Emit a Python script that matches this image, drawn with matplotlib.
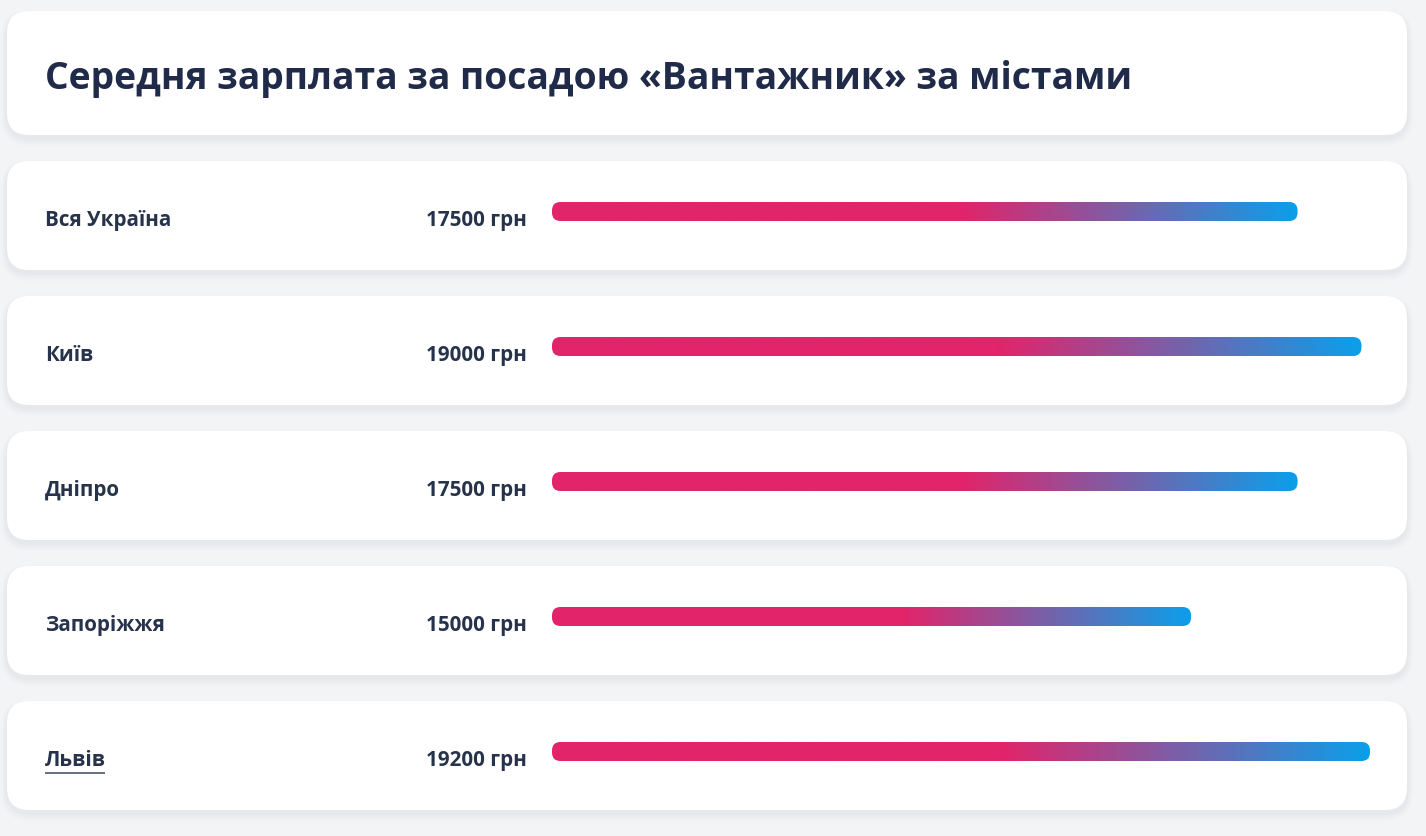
import numpy as np
import matplotlib
matplotlib.use("Agg")
from matplotlib import pyplot as plt
from matplotlib.patches import FancyBboxPatch
from matplotlib.colors import LinearSegmentedColormap
from matplotlib.transforms import blended_transform_factory

cities = ["Вся Україна", "Київ", "Дніпро", "Запоріжжя", "Львів"]
salaries = [17500, 19000, 17500, 15000, 19200]
unit = "грн"
title = "Середня зарплата за посадою «Вантажник» за містами"

W, H = 1426, 837
BG = "#f3f4f6"
TITLE_C = "#1f2b48"
TEXT_C = "#26334b"
PINK = "#e2246a"
BLUE = "#0b9fea"

plt.rcParams["font.family"] = ["Open Sans", "DejaVu Sans"]

fig = plt.figure(figsize=(W / 100, H / 100), dpi=100)
fig.patch.set_facecolor(BG)

bg = fig.add_axes([0, 0, 1, 1])
bg.set_xlim(0, W)
bg.set_ylim(H, 0)
bg.axis("off")


def card(y0, y1, x0=7, x1=1407, r=22):
    # soft shadow
    for k, a in [(12, 0.008), (9, 0.010), (6, 0.012), (3, 0.014)]:
        bg.add_patch(FancyBboxPatch((x0 - k / 2, y0 + 3 - k / 3), x1 - x0 + k, y1 - y0 + k,
                                    boxstyle=f"round,pad=0,rounding_size={r + k / 2}",
                                    fc="#1f2b48", ec="none", alpha=a, zorder=1))
    bg.add_patch(FancyBboxPatch((x0, y0), x1 - x0, y1 - y0,
                                boxstyle=f"round,pad=0,rounding_size={r}",
                                fc="white", ec="none", zorder=2))


card(12, 136)
bg.text(45, 79, title, fontsize=26.8, fontweight="bold", color=TITLE_C,
        va="center", ha="left", zorder=3)

for i in range(len(cities)):
    top = 162 + 135 * i
    card(top, top + 109)

# bar axes: track from x=552 to x=1370, one row every 135 px
n = len(cities)
left_px, right_px = 552, 1370
top_px = 212.5 - 67.5
bot_px = 212.5 + 135 * (n - 1) + 67.5
bars = fig.add_axes([left_px / W, 1 - bot_px / H, (right_px - left_px) / W, (bot_px - top_px) / H])
bars.set_xlim(0, max(salaries))
bars.set_ylim(n - 0.5, -0.5)
bars.axis("off")
bars.patch.set_alpha(0)

cmap = LinearSegmentedColormap.from_list("g", [(0, PINK), (0.55, PINK), (1, BLUE)])
grad = np.linspace(0, 1, 512).reshape(1, -1)

x_per_px = max(salaries) / (right_px - left_px)
y_per_px = 1 / 135
bar_h = 19 * y_per_px
r_px = 8.5

for i, v in enumerate(salaries):
    patch = FancyBboxPatch((0, i - bar_h / 2), v, bar_h,
                           boxstyle=f"round,pad=0,rounding_size={r_px * x_per_px}",
                           mutation_aspect=y_per_px / x_per_px,
                           fc="none", ec="none")
    bars.add_patch(patch)
    im = bars.imshow(grad, cmap=cmap, aspect="auto", extent=(0, v, i + bar_h / 2, i - bar_h / 2),
                     interpolation="bilinear", zorder=3)
    im.set_clip_path(patch)

bars.set_xlim(0, max(salaries))
bars.set_ylim(n - 0.5, -0.5)

lab = dict(fontsize=14.9, fontweight="bold", color=TEXT_C, va="center", zorder=4)
tr = blended_transform_factory(bg.transData, bars.transData)
for i, (c, v) in enumerate(zip(cities, salaries)):
    bg.annotate(c, xy=(45, i), xycoords=tr, xytext=(0, -5.6), textcoords="offset points",
                ha="left", **lab)
    bg.annotate(f"{v} {unit}", xy=(527, i), xycoords=tr, xytext=(0, -5.6), textcoords="offset points",
                ha="right", **lab)

# link underline under the last city
bg.plot([45, 105], [774, 774], color="#4b5670", lw=1.2, zorder=4, solid_capstyle="butt")

fig.savefig("out.png", dpi=100, facecolor=BG)
